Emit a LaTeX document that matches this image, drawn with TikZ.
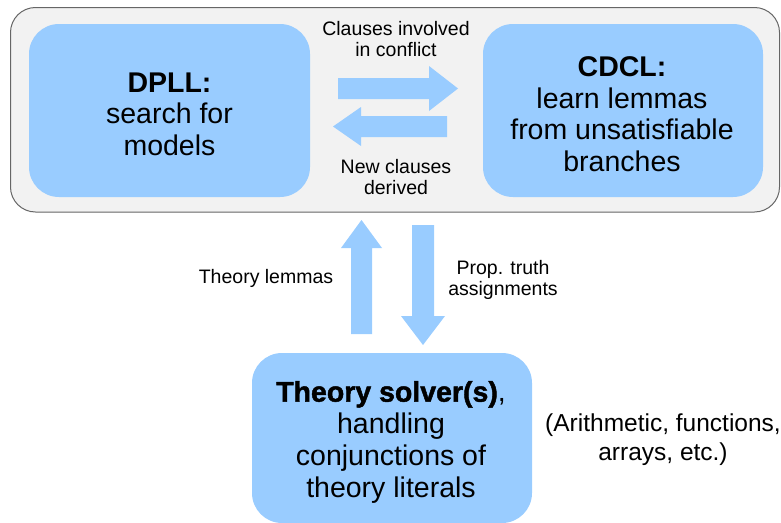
\documentclass[tikz,border=0pt]{standalone}
\usepackage{fontspec}
\setmainfont{Liberation Sans}
\newfontfamily\heavyfont{Liberation Sans Bold}[FakeBold=1.6]
\definecolor{skyblue}{HTML}{99CCFF}
\definecolor{panelgray}{HTML}{F2F2F2}
\definecolor{edgegray}{HTML}{666666}
\begin{document}
\begin{tikzpicture}[x=1pt,y=-1pt,
  blob/.style={fill=skyblue, rounded corners=30pt, inner sep=0pt},
  bigtext/.style={align=center, font=\fontsize{28.5}{31.5}\selectfont, inner sep=0pt},
  smalltext/.style={align=center, font=\fontsize{19.5}{21.5}\selectfont, inner sep=0pt},
  fattext/.style={align=center, font=\fontsize{24.5}{29}\selectfont, inner sep=0pt},
  blockarrow/.style={fill=skyblue}]
\useasboundingbox (0,0) rectangle (781,522);
\clip (0,0) rectangle (781,522);

% outer panel holding the SAT engine
\draw[fill=panelgray, draw=edgegray, line width=1pt, rounded corners=25pt]
  (10.5,7.5) rectangle (779.5,212);

% the two engine boxes
\node[blob, minimum width=281, minimum height=173] (dpll) at (169.5,110.5) {};
\node[bigtext] (dpllt) at (169.5,114) {\textbf{DPLL:}\\search for\\models};

\node[blob, minimum width=280, minimum height=173] (cdcl) at (623,110.5) {};
\node[bigtext] (cdclt) at (622,114) {\textbf{CDCL:}\\learn lemmas\\from unsatisfiable\\branches};

% theory solver box along the bottom edge
\node[blob, minimum width=280, minimum height=170] (solver) at (392,438) {};
\node[bigtext, font=\fontsize{28.5}{31.8}\selectfont] (solvert) at (391,442)
  {{\heavyfont Theory solver(s)},\\handling\\conjunctions of\\theory literals};

\node[fattext] (theories) at (663,440) {(Arithmetic, functions,\\arrays, etc.)};

% horizontal block arrows between DPLL and CDCL
\fill[blockarrow] (338,78) -- (429,78) -- (429,66) -- (458,88.5) -- (429,111)
  -- (429,99) -- (338,99) -- cycle;
\fill[blockarrow] (447,116) -- (361,116) -- (361,107) -- (333,126.5) -- (361,146)
  -- (361,137) -- (447,137) -- cycle;

\node[smalltext] (conflict) at (396,39) {Clauses involved\\in conflict};
\node[smalltext] (derived) at (396,177) {New clauses\\derived};

% vertical block arrows between the engine and the theory solver
\fill[blockarrow] (351,334) -- (351,248) -- (341,248) -- (361.5,220) -- (382,248)
  -- (372,248) -- (372,334) -- cycle;
\fill[blockarrow] (412,225) -- (434,225) -- (434,316) -- (445,316) -- (423,345)
  -- (401,316) -- (412,316) -- cycle;

\node[smalltext] (lemmas) at (266,278) {Theory lemmas};
\node[smalltext] (assign) at (503,280) {Prop. truth\\assignments};
\end{tikzpicture}
\end{document}
